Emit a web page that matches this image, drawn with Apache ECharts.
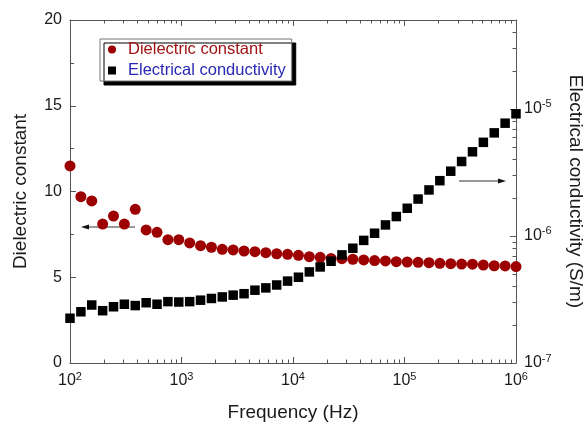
<!DOCTYPE html>
<html>
<head>
<meta charset="utf-8">
<script src="https://cdn.jsdelivr.net/npm/echarts@6/dist/echarts.min.js"></script>
<style>
  html, body { margin: 0; padding: 0; background: #fff; }
  #chart { width: 588px; height: 427px; }
</style>
</head>
<body>
<div id="chart"></div>
<script>
const FONT = "Liberation Sans, Arial, sans-serif";

// frequency (Hz), log spaced 10^2 .. 10^6
const freqHz = [
  100, 125.2, 156.7, 196.2, 245.6, 307.4, 384.9, 481.9, 603.3, 755.1,
  945.4, 1184, 1482, 1855, 2322, 2907, 3639, 4555, 5703, 7139,
  8937, 11190, 14010, 17530, 21950, 27480, 34400, 43060, 53910, 67490,
  84480, 105800, 132400, 165800, 207500, 259800, 325200, 407100, 509700, 638100,
  798800, 1000000
];

const dielectric = [
  11.49, 9.70, 9.45, 8.10, 8.57, 8.10, 8.96, 7.76, 7.62, 7.19,
  7.19, 7.00, 6.84, 6.75, 6.63, 6.59, 6.53, 6.49, 6.43, 6.37,
  6.34, 6.28, 6.20, 6.16, 6.10, 6.08, 6.05, 6.01, 5.97, 5.95,
  5.91, 5.89, 5.87, 5.85, 5.81, 5.79, 5.77, 5.76, 5.71, 5.67,
  5.66, 5.62
];

// S/m
const conductivity = [
  2.25e-7, 2.53e-7, 2.86e-7, 2.58e-7, 2.77e-7, 2.90e-7, 2.83e-7, 2.98e-7, 2.90e-7, 3.04e-7,
  3.02e-7, 3.04e-7, 3.12e-7, 3.22e-7, 3.31e-7, 3.42e-7, 3.51e-7, 3.74e-7, 3.90e-7, 4.11e-7,
  4.41e-7, 4.73e-7, 5.21e-7, 5.70e-7, 6.32e-7, 7.09e-7, 8.00e-7, 9.22e-7, 1.05e-6, 1.22e-6,
  1.42e-6, 1.65e-6, 1.95e-6, 2.30e-6, 2.72e-6, 3.23e-6, 3.85e-6, 4.59e-6, 5.45e-6, 6.47e-6,
  7.71e-6, 9.14e-6
];

// axis ranges / minor tick positions
const freqDecades = [100, 1000, 10000, 100000];
const condDecades = [1e-7, 1e-6, 1e-5];
const minorSteps = [2, 3, 4, 5, 6, 7, 8, 9];
const condMax = 5e-5;

const freqMinor = [];
freqDecades.forEach(d => minorSteps.forEach(m => freqMinor.push([d * m, 0])));
const condMinor = [];
condDecades.forEach(d => minorSteps.forEach(m => {
  if (d * m <= condMax * 1.0001) condMinor.push([1e6, d * m]);
}));

const chart = echarts.init(document.getElementById("chart"));

const axisColor = "#555";
const textColor = "#1a1a1a";

const powLabel = (v) => {
  const e = Math.round(Math.log10(v) * 1000) / 1000;
  if (Math.abs(e - Math.round(e)) > 0.01) return "";
  return "{b|10}{s|" + Math.round(e) + "}";
};
const powRich = {
  b: { fontSize: 16, fontFamily: FONT, color: textColor },
  s: { fontSize: 11, fontFamily: FONT, color: textColor, padding: [0, 0, 9, 0] },
};

const options = {
  animation: false,
  backgroundColor: "#fff",
  grid: { left: 70, top: 20, right: 72, bottom: 64, outerBoundsMode: "none", containLabel: false },
  legend: {
    orient: "vertical",
    left: 100,
    top: 39,
    itemWidth: 8,
    itemHeight: 8,
    itemGap: 4,
    padding: [2, 6, 2, 8],
    backgroundColor: "#fff",
    borderColor: "#777",
    borderWidth: 1,
    shadowColor: "#000",
    shadowOffsetX: 4,
    shadowOffsetY: 4,
    shadowBlur: 0,
    textStyle: { fontSize: 16.5, fontFamily: FONT, lineHeight: 17, padding: [0, 0, 0, 7] },
    data: [
      { name: "Dielectric constant", icon: "circle", textStyle: { color: "#a01414" } },
      { name: "Electrical conductivity", icon: "rect", textStyle: { color: "#2828b4" } },
    ],
  },
  xAxis: [
    {
      type: "log",
      min: 100,
      max: 1e6,
      logBase: 10,
      name: "Frequency (Hz)",
      nameLocation: "middle",
      nameGap: 40,
      nameTextStyle: { fontSize: 19, fontFamily: FONT, color: textColor },
      axisLine: { lineStyle: { color: axisColor, width: 1 } },
      axisTick: { inside: true, length: 6, lineStyle: { color: axisColor } },
      axisLabel: { margin: 8, formatter: powLabel, rich: powRich },
      splitLine: { show: false },
    },
    {
      type: "log",
      position: "top",
      min: 100,
      max: 1e6,
      logBase: 10,
      axisLine: { lineStyle: { color: axisColor, width: 1 } },
      axisTick: { inside: true, length: 6, lineStyle: { color: axisColor } },
      axisLabel: { show: false },
      splitLine: { show: false },
    },
  ],
  yAxis: [
    {
      type: "value",
      min: 0,
      max: 20,
      interval: 5,
      name: "Dielectric constant",
      nameLocation: "middle",
      nameGap: 40,
      nameRotate: 90,
      nameTextStyle: { fontSize: 19, fontFamily: FONT, color: textColor },
      axisLine: { show: true, lineStyle: { color: axisColor, width: 1 } },
      axisTick: { show: true, inside: true, length: 6, lineStyle: { color: axisColor } },
      minorTick: { show: true, splitNumber: 2, length: 4, lineStyle: { color: axisColor } },
      axisLabel: { fontSize: 16, fontFamily: FONT, color: textColor, margin: 8 },
      splitLine: { show: false },
    },
    {
      type: "log",
      position: "right",
      min: 1e-7,
      max: condMax,
      logBase: 10,
      name: "Electrical conductivity (S/m)",
      nameLocation: "middle",
      nameGap: 50,
      nameRotate: -90,
      nameTextStyle: { fontSize: 19, fontFamily: FONT, color: textColor },
      axisLine: { show: true, lineStyle: { color: axisColor, width: 1 } },
      axisTick: { show: true, inside: true, length: 6, lineStyle: { color: axisColor } },
      axisLabel: { margin: 8, formatter: powLabel, rich: powRich },
      splitLine: { show: false },
    },
  ],
  graphic: [
    { type: "line", shape: { x1: 86, y1: 227, x2: 135, y2: 227 }, style: { stroke: "#333", lineWidth: 1 } },
    { type: "polygon", shape: { points: [[81, 227], [89, 224.5], [89, 229.5]] }, style: { fill: "#111" } },
    { type: "line", shape: { x1: 459, y1: 181, x2: 499, y2: 181 }, style: { stroke: "#333", lineWidth: 1 } },
    { type: "polygon", shape: { points: [[506, 181], [498, 178.5], [498, 183.5]] }, style: { fill: "#111" } },
  ],
  series: [
    {
      name: "Dielectric constant",
      type: "scatter",
      xAxisIndex: 0,
      yAxisIndex: 0,
      symbol: "circle",
      symbolSize: 11,
      itemStyle: { color: "#9c0000", opacity: 1 },
      data: freqHz.map((f, i) => [f, dielectric[i]]),
    },
    {
      name: "Electrical conductivity",
      type: "scatter",
      xAxisIndex: 0,
      yAxisIndex: 1,
      symbol: "rect",
      symbolSize: 9.5,
      itemStyle: { color: "#000", opacity: 1 },
      data: freqHz.map((f, i) => [f, conductivity[i]]),
    },
    {
      // minor ticks of the log frequency axes (bottom and top)
      type: "custom",
      silent: true,
      xAxisIndex: 0,
      yAxisIndex: 0,
      data: freqMinor,
      renderItem: (params, api) => {
        const p = api.coord([api.value(0), 0]);
        const cs = params.coordSys;
        const x = Math.round(p[0]) + 0.5;
        return {
          type: "group",
          children: [
            { type: "line", shape: { x1: x, y1: cs.y + cs.height, x2: x, y2: cs.y + cs.height - 3.5 }, style: { stroke: axisColor, lineWidth: 1 } },
            { type: "line", shape: { x1: x, y1: cs.y, x2: x, y2: cs.y + 3.5 }, style: { stroke: axisColor, lineWidth: 1 } },
          ],
        };
      },
    },
    {
      // minor ticks of the log conductivity axis
      type: "custom",
      silent: true,
      xAxisIndex: 0,
      yAxisIndex: 1,
      data: condMinor,
      renderItem: (params, api) => {
        const p = api.coord([api.value(0), api.value(1)]);
        const cs = params.coordSys;
        const y = Math.round(p[1]) + 0.5;
        const xr = cs.x + cs.width;
        return { type: "line", shape: { x1: xr, y1: y, x2: xr - 3.5, y2: y }, style: { stroke: axisColor, lineWidth: 1 } };
      },
    },
  ],
};

chart.setOption(options);
</script>
</body>
</html>
